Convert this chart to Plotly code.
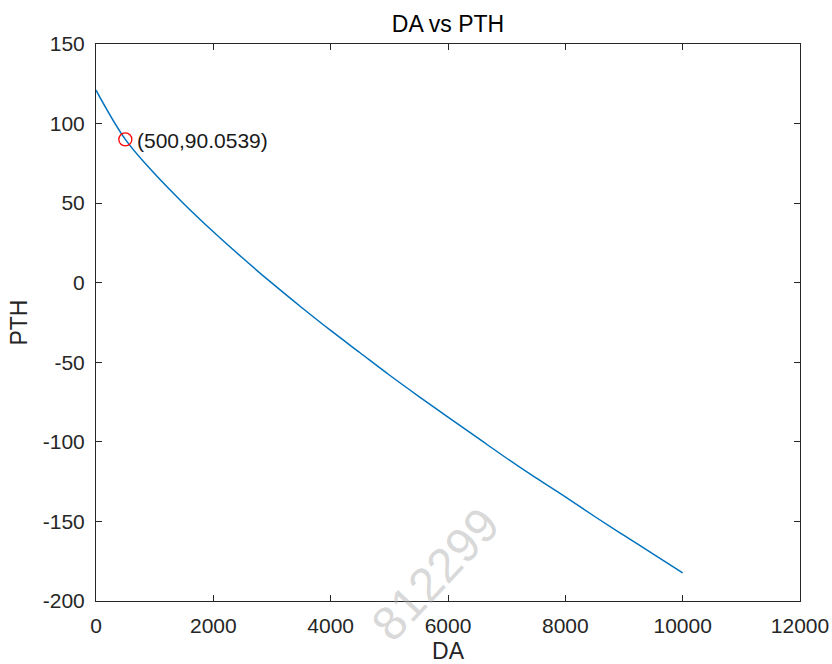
import plotly.graph_objects as go

# Data
da = [0, 500, 1000, 1500, 2000, 2500, 3000, 3500, 4000, 4500, 5000,
      5500, 6000, 6500, 7000, 7500, 8000, 8500, 9000, 9500, 10000]
pth = [121.0, 90.05, 68.4, 49.5, 32.0, 15.5, -0.3, -15.4, -30.0, -44.0, -58.0,
       -71.4, -84.5, -97.4, -110.3, -122.7, -134.6, -146.9, -158.8, -170.5, -182.3]

marker_x = [500]
marker_y = [90.0539]
marker_label = "(500,90.0539)"

x_ticks = [0, 2000, 4000, 6000, 8000, 10000, 12000]
y_ticks = [-200, -150, -100, -50, 0, 50, 100, 150]

title_text = "DA vs PTH"
x_label = "DA"
y_label = "PTH"
watermark = "812299"

font_family = "Liberation Sans, Arial, Helvetica, sans-serif"
axis_color = "#262626"

W, H = 832, 664
L, R, T, B = 96, 32, 44, 63
PW, PH = W - L - R, H - T - B

fig = go.Figure()
fig.add_trace(go.Scatter(
    x=da, y=pth, mode="lines",
    line=dict(color="#0072BD", width=1.5, shape="spline"),
    showlegend=False, hoverinfo="skip",
))
fig.add_trace(go.Scatter(
    x=marker_x, y=marker_y, mode="markers",
    marker=dict(symbol="circle-open", size=13, color="#FF0000",
                line=dict(color="#FF0000", width=1.3)),
    showlegend=False,
))

fig.add_annotation(
    x=marker_x[0], y=marker_y[0], xref="x", yref="y",
    text=marker_label, showarrow=False,
    xanchor="left", yanchor="middle", xshift=10, yshift=-1,
    font=dict(family=font_family, size=21, color="#1a1a1a"),
)

# faint watermark (pixel centre converted to paper coordinates)
wm_px, wm_py = 435, 574
fig.add_annotation(
    x=(wm_px - L) / PW, y=(H - B - wm_py) / PH, xref="paper", yref="paper",
    xanchor="center", yanchor="middle",
    text=watermark, showarrow=False, textangle=-47,
    font=dict(family=font_family, size=48, color="rgba(170,170,170,0.45)"),
)

axis_common = dict(
    showgrid=False, zeroline=False, showline=True, linecolor=axis_color,
    linewidth=1, mirror="allticks", ticks="inside", ticklen=6,
    tickcolor=axis_color, tickwidth=1, automargin=False,
    tickfont=dict(family=font_family, size=21, color=axis_color),
)

fig.update_layout(
    width=W, height=H,
    margin=dict(l=L, r=R, t=T, b=B, autoexpand=False),
    paper_bgcolor="white", plot_bgcolor="white",
    title=dict(text=title_text, x=0.5, xref="paper", xanchor="center",
               y=1 - 24 / H, yanchor="middle",
               font=dict(family=font_family, size=23, color="#000000")),
    xaxis=dict(range=[0, 12000], tickvals=x_ticks,
               ticktext=[str(v) for v in x_ticks],
               ticklabelstandoff=6,
               title=dict(text=x_label, standoff=12,
                          font=dict(family=font_family, size=23, color=axis_color)),
               **axis_common),
    yaxis=dict(range=[-200, 150], tickvals=y_ticks,
               ticktext=[str(v) for v in y_ticks],
               ticklabelstandoff=6,
               title=dict(text=y_label, standoff=8,
                          font=dict(family=font_family, size=23, color=axis_color)),
               **axis_common),
)

fig.write_html("out.html")
